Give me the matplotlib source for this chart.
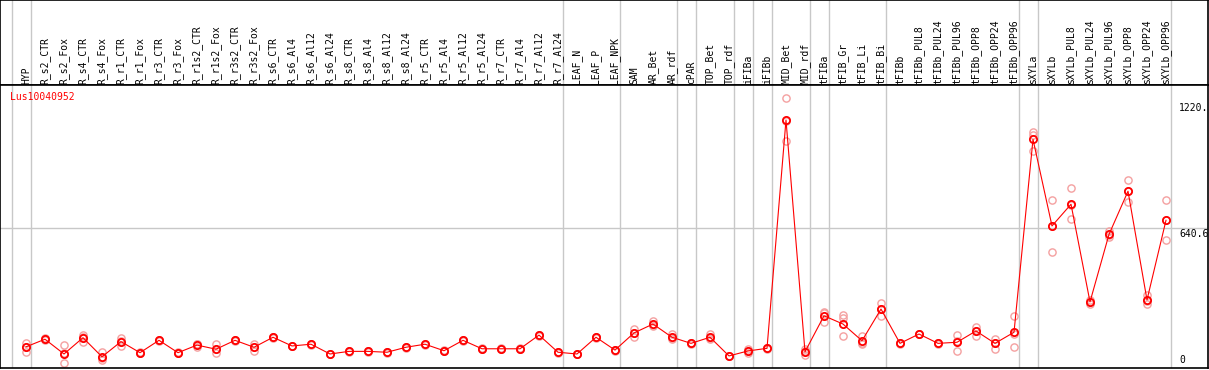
import matplotlib
matplotlib.use('Agg')
import matplotlib.pyplot as plt
import matplotlib.transforms as mtransforms
import numpy as np

gene = "Lus10040952"

labels = ['HYP', 'R_s2_CTR', 'R_s2_Fox', 'R_s4_CTR', 'R_s4_Fox', 'R_r1_CTR', 'R_r1_Fox',
          'R_r3_CTR', 'R_r3_Fox', 'R_r1s2_CTR', 'R_r1s2_Fox', 'R_r3s2_CTR', 'R_r3s2_Fox',
          'R_s6_CTR', 'R_s6_Al4', 'R_s6_Al12', 'R_s6_Al24', 'R_s8_CTR', 'R_s8_Al4',
          'R_s8_Al12', 'R_s8_Al24', 'R_r5_CTR', 'R_r5_Al4', 'R_r5_Al12', 'R_r5_Al24',
          'R_r7_CTR', 'R_r7_Al4', 'R_r7_Al12', 'R_r7_Al24', 'LEAF_N', 'LEAF_P', 'LEAF_NPK',
          'SAM', 'AR_Bet', 'AR_rdf', 'cPAR', 'TOP_Bet', 'TOP_rdf', 'iFIBa', 'iFIBb',
          'MID_Bet', 'MID_rdf', 'tFIBa', 'tFIB_Gr', 'tFIB_Li', 'tFIB_Bi', 'tFIBb',
          'tFIBb_PUL8', 'tFIBb_PUL24', 'tFIBb_PUL96', 'tFIBb_OPP8', 'tFIBb_OPP24',
          'tFIBb_OPP96', 'sXYLa', 'sXYLb', 'sXYLb_PUL8', 'sXYLb_PUL24', 'sXYLb_PUL96',
          'sXYLb_OPP8', 'sXYLb_OPP24', 'sXYLb_OPP96']

# sizes of the sample groups (separated by grey lines)
group_sizes = [1, 28, 3, 3, 1, 2, 1, 1, 2, 1, 3, 7, 1, 7]

means = [93, 128, 60, 135, 47, 117, 66, 123, 66, 101, 82, 123, 91,
         137, 97, 105, 60, 72, 72, 68, 91, 105, 75, 123, 84,
         84, 84, 147, 68, 60, 137, 78,
         157, 198, 137, 109, 137, 51, 74, 86,
         1138, 70, 236, 198, 121, 267, 109,
         152, 109, 114, 166, 109, 160,
         1049, 650, 750, 300, 611, 810, 309, 676]

reps = [[110, 92, 69], [132, 124, 127], [101, 17, 63], [147, 117, 138], [70, 32, 41],
        [132, 97, 120], [66, 64, 68], [121, 125, 123], [64, 68, 66], [106, 94, 104],
        [106, 63, 83], [121, 125, 123], [106, 74, 92], [139, 135, 137], [99, 95, 97],
        [107, 103, 105], [62, 58, 60], [74, 70, 72], [74, 70, 72], [70, 66, 68],
        [93, 89, 91], [107, 103, 105], [77, 73, 75], [125, 121, 123], [86, 82, 84],
        [86, 82, 84], [86, 82, 84], [149, 145, 147], [70, 66, 68], [62, 58, 60],
        [139, 135, 137], [80, 76, 78], [174, 137, 157], [213, 194, 189], [152, 128, 134],
        [111, 107, 109], [152, 132, 127], [53, 49, 51], [82, 66, 74], [88, 84, 86],
        [1238, 1041, 1135], [55, 72, 83], [247, 209, 252], [240, 224, 143], [143, 112, 106],
        [296, 235, 267], [111, 107, 109], [154, 150, 152], [111, 107, 109], [147, 75, 120],
        [186, 143, 166], [128, 82, 111], [235, 91, 154], [1082, 995, 1070], [769, 529, 650],
        [823, 681, 746], [309, 290, 300], [628, 598, 609], [862, 759, 809], [332, 289, 306],
        [769, 583, 676]]

ytick_vals = [1220, 640.6, 0]
ytick_text = ['1220.', '640.6', '0']

W, H = 1209, 370


def px_rect(x0, y0, x1, y1):
    return [x0 / W, 1 - y1 / H, (x1 - x0) / W, (y1 - y0) / H]


fig = plt.figure(figsize=(W / 100, H / 100), dpi=100)
ax_head = fig.add_axes(px_rect(0, 0, 1208, 85))
ax = fig.add_axes(px_rect(0, 85, 1208, 368))

x = np.arange(len(labels))
xlim = (-26 / 19, (1208 - 26) / 19)
for a in (ax_head, ax):
    a.set_xlim(*xlim)
    a.set_xticks([])
    a.set_yticks([])
    for s in a.spines.values():
        s.set_color('black')
        s.set_linewidth(1.2)
ax.set_ylim(-4.6, 1299.5)
ax_head.set_ylim(0, 1)

# group separators
bounds = np.cumsum([0] + group_sizes) - 1 + 0.25
for b in bounds:
    ax.axvline(b, color='#c8c8c8', lw=1, zorder=0)
    ax_head.axvline(b, color='#c8c8c8', lw=1, zorder=0)
ax.axhline(ytick_vals[1], color='#c8c8c8', lw=1, zorder=0)

mono = 'DejaVu Sans Mono'
trh = mtransforms.blended_transform_factory(ax_head.transData, ax_head.transAxes)
for i, lab in enumerate(labels):
    ax_head.text(i, 0.015, lab, rotation=90, ha='center', va='bottom',
                 fontsize=7, family=mono, transform=trh)

# replicates
for i, r in enumerate(reps):
    ax.plot([i] * len(r), r, 'o', ms=5.2, mfc='none', mec='#f4a0a0', mew=1.0, zorder=2)

ax.plot(x, means, '-', color='red', lw=0.8, zorder=3)
ax.plot(x, means, 'o', ms=5.2, mfc='none', mec='red', mew=1.3, zorder=4)

ax.text(10 / 1208, 1 - 12 / 283, gene, color='red', fontsize=7, family=mono,
        ha='left', va='center', transform=ax.transAxes)

trv = mtransforms.blended_transform_factory(ax.transAxes, ax.transData)
for v, t in zip(ytick_vals, ytick_text):
    if v == 0:
        ax.text(1179 / 1208, 0.01, t, fontsize=7, family=mono, ha='left',
                va='bottom', transform=ax.transAxes)
    else:
        ax.annotate(t, (1179 / 1208, v), xycoords=trv, xytext=(0, -0.5),
                    textcoords='offset points', fontsize=7, family=mono,
                    ha='left', va='top')

fig.savefig('out.png', dpi=100)
